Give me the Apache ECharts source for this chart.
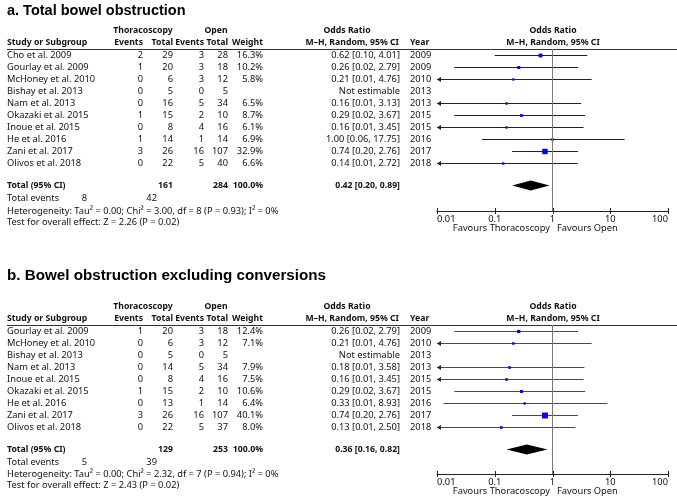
<!DOCTYPE html>
<html><head><meta charset="utf-8">
<script src="https://cdn.jsdelivr.net/npm/echarts/dist/echarts.min.js"></script>
<style>html,body{margin:0;padding:0;background:#fff}#c{width:677px;height:497px}</style>
</head><body><div id="c"></div>
<script>
// ---------- Panel a data ----------
const titleA = 'a. Total bowel obstruction';
const studiesA = ['Cho et al. 2009','Gourlay et al. 2009','McHoney et al. 2010','Bishay et al. 2013','Nam et al. 2013','Okazaki et al. 2015','Inoue et al. 2015','He et al. 2016','Zani et al. 2017','Olivos et al. 2018'];
const thorEventsA = [2,1,0,0,0,1,0,1,3,0];
const thorTotalA  = [29,20,6,5,16,15,8,14,26,22];
const openEventsA = [3,3,3,0,5,2,4,1,16,5];
const openTotalA  = [28,18,12,5,34,10,16,14,107,40];
const weightA = [16.3,10.2,5.8,null,6.5,8.7,6.1,6.9,32.9,6.6];
const orA   = [0.62,0.26,0.21,null,0.16,0.29,0.16,1.00,0.74,0.14];
const lowA  = [0.10,0.02,0.009,null,0.009,0.02,0.009,0.06,0.20,0.009];
const highA = [4.01,2.79,4.76,null,3.13,3.67,3.45,17.75,2.76,2.72];
const yearA = [2009,2009,2010,2013,2013,2015,2015,2016,2017,2018];
const pooledA = [0.42,0.20,0.89];          // OR, low, high
const totalsA = [161,284,100.0];           // thor total, open total, weight
const eventsA = [8,42];
const hetA = [0.00,3.00,8,0.93,0];         // Tau2, Chi2, df, P, I2
const effectA = [2.26,0.02];               // Z, P

// ---------- Panel b data ----------
const titleB = 'b. Bowel obstruction excluding conversions';
const studiesB = ['Gourlay et al. 2009','McHoney et al. 2010','Bishay et al. 2013','Nam et al. 2013','Inoue et al. 2015','Okazaki et al. 2015','He et al. 2016','Zani et al. 2017','Olivos et al. 2018'];
const thorEventsB = [1,0,0,0,0,1,0,3,0];
const thorTotalB  = [20,6,5,14,8,15,13,26,22];
const openEventsB = [3,3,0,5,4,2,1,16,5];
const openTotalB  = [18,12,5,34,16,10,14,107,37];
const weightB = [12.4,7.1,null,7.9,7.5,10.6,6.4,40.1,8.0];
const orB   = [0.26,0.21,null,0.18,0.16,0.29,0.33,0.74,0.13];
const lowB  = [0.02,0.009,null,0.009,0.009,0.02,0.013,0.20,0.009];
const highB = [2.79,4.76,null,3.58,3.45,3.67,8.93,2.76,2.50];
const yearB = [2009,2010,2013,2013,2015,2015,2016,2017,2018];
const pooledB = [0.36,0.16,0.82];
const totalsB = [129,253,100.0];
const eventsB = [5,39];
const hetB = [0.00,2.32,7,0.94,0];
const effectB = [2.43,0.02];

const xTicks = [0.01,0.1,1,10,100];

// ---------- layout / style ----------
const FAM = '"Noto Sans","Open Sans",sans-serif';
const FS = 9.3, FSB = 8.7;
const INK = '#111';
const COL = {study:7, thorEv:143, thorTot:173, openEv:204, openTot:228, weight:263, or:400, year:410};
const GRID_LEFT = 437, GRID_W = 231;
const font = b => (b ? 'bold ' + FSB : FS) + 'px ' + FAM;
const f2 = v => v.toFixed(2);
function T(x, y, s, align, bold) {
  return {type:'text', x:x, y:y, style:{text:String(s), fill:INK, font:font(bold), align:align||'left', verticalAlign:'middle'}};
}

const panels = [
  {title:titleA, titleY:11, titleFS:14.5, y0:55, yMax:13, studies:studiesA, te:thorEventsA, tt:thorTotalA, oe:openEventsA, ot:openTotalA,
   w:weightA, or:orA, lo:lowA, hi:highA, yr:yearA, pooled:pooledA, totals:totalsA, events:eventsA, het:hetA, eff:effectA, lineColor:'#222'},
  {title:titleB, titleY:276, titleFS:15.2, y0:331, yMax:11.92, studies:studiesB, te:thorEventsB, tt:thorTotalB, oe:openEventsB, ot:openTotalB,
   w:weightB, or:orB, lo:lowB, hi:highB, yr:yearB, pooled:pooledB, totals:totalsB, events:eventsB, het:hetB, eff:effectB, lineColor:'#4a4a4a'}
];

const grids = [], xAxes = [], yAxes = [], series = [], graphics = [];

panels.forEach((P, k) => {
  const n = P.studies.length;
  const top = P.y0 - 6;
  grids.push({left:GRID_LEFT, width:GRID_W, top:top, height:Math.round((P.yMax + 0.5) * 12)});
  xAxes.push({type:'log', logBase:10, gridIndex:k, min:xTicks[0], max:xTicks[xTicks.length-1],
    axisLine:{onZero:false, lineStyle:{color:'#222', width:1}},
    axisTick:{show:false},
    splitLine:{show:false},
    axisLabel:{color:INK, fontFamily:FAM, fontSize:FS, margin:4, alignMinLabel:'left', alignMaxLabel:'right',
      formatter: v => String(parseFloat(Number(v).toPrecision(3)))}});
  yAxes.push({type:'value', gridIndex:k, inverse:true, min:-0.5, max:P.yMax, show:false});

  // title + headers + header rule (layout text)
  const h1 = P.y0 - 24, h2 = P.y0 - 12;
  graphics.push({type:'text', x:7, y:P.titleY, style:{text:P.title, fill:'#000', font:'bold ' + P.titleFS + 'px "Liberation Sans",Arial,sans-serif', verticalAlign:'middle'}});
  [['Thoracoscopy',143,h1,'center',true],['Open',216,h1,'center',true],['Odds Ratio',347,h1,'center',true],['Odds Ratio',553,h1,'center',true],
   ['Study or Subgroup',COL.study,h2,'left',true],['Events',COL.thorEv,h2,'right',true],['Total',COL.thorTot,h2,'right',true],
   ['Events',COL.openEv,h2,'right',true],['Total',COL.openTot,h2,'right',true],['Weight',COL.weight,h2,'right',true],
   ['M\u2013H, Random, 95% CI',COL.or-1,h2,'right',true],['Year',COL.year,h2,'left',true],['M\u2013H, Random, 95% CI',553,h2,'center',true]
  ].forEach(a => graphics.push(T(a[1], a[2], a[0], a[3], a[4])));
  graphics.push({type:'line', shape:{x1:7, y1:top + 0.5, x2:677, y2:top + 0.5}, style:{stroke:'#333', lineWidth:1}});
  const axisY = P.y0 + P.yMax * 12;
  graphics.push(T(550, axisY + 17, 'Favours Thoracoscopy', 'right', false));
  graphics.push(T(557, axisY + 17, 'Favours Open', 'left', false));

  // table rows
  series.push({type:'custom', xAxisIndex:k, yAxisIndex:k, silent:true, clip:false,
    data: P.studies.map((s, i) => [1, i]),
    renderItem: (params, api) => {
      const i = params.dataIndex;
      const y = api.coord([1, api.value(1)])[1];
      const orTxt = P.or[i] == null ? 'Not estimable' : f2(P.or[i]) + ' [' + f2(P.lo[i]) + ', ' + f2(P.hi[i]) + ']';
      return {type:'group', children:[
        T(COL.study, y, P.studies[i]), T(COL.thorEv, y, P.te[i], 'right'), T(COL.thorTot, y, P.tt[i], 'right'),
        T(COL.openEv, y, P.oe[i], 'right'), T(COL.openTot, y, P.ot[i], 'right'),
        T(COL.weight, y, P.w[i] == null ? '' : P.w[i].toFixed(1) + '%', 'right'),
        T(COL.or, y, orTxt, 'right'), T(COL.year, y, P.yr[i], 'left')]};
    }});

  // summary rows
  const rTot = n + 0.88, rEv = n + 1.95, rHet = P.yMax, rTest = P.yMax + 0.93;
  series.push({type:'custom', xAxisIndex:k, yAxisIndex:k, silent:true, clip:false,
    data: [[1, rTot]],
    renderItem: (params, api) => {
      const yT = api.coord([1, rTot])[1], yE = api.coord([1, rEv])[1], yH = api.coord([1, rHet])[1], yZ = api.coord([1, rTest])[1];
      const h = P.het, z = P.eff, pl = P.pooled;
      return {type:'group', children:[
        T(COL.study, yT, 'Total (95% CI)', 'left', true), T(COL.thorTot, yT, P.totals[0], 'right', true),
        T(COL.openTot, yT, P.totals[1], 'right', true), T(COL.weight, yT, P.totals[2].toFixed(1) + '%', 'right', true),
        T(COL.or, yT, f2(pl[0]) + ' [' + f2(pl[1]) + ', ' + f2(pl[2]) + ']', 'right', true),
        T(COL.study, yE, 'Total events'), T(87, yE, P.events[0], 'right'), T(157, yE, P.events[1], 'right'),
        T(COL.study, yH, 'Heterogeneity: Tau\u00b2 = ' + f2(h[0]) + '; Chi\u00b2 = ' + f2(h[1]) + ', df = ' + h[2] + ' (P = ' + f2(h[3]) + '); I\u00b2 = ' + h[4] + '%'),
        T(COL.study, yZ, 'Test for overall effect: Z = ' + f2(z[0]) + ' (P = ' + f2(z[1]) + ')')]};
    }});

  // axis ticks crossing the axis line
  series.push({type:'custom', xAxisIndex:k, yAxisIndex:k, silent:true, clip:false,
    data: xTicks.map(v => [v, P.yMax]),
    renderItem: (params, api) => {
      const p = api.coord([api.value(0), api.value(1)]);
      const x = Math.round(p[0]) + 0.5;
      return {type:'line', shape:{x1:x, y1:p[1] - 3, x2:x, y2:p[1] + 3}, style:{stroke:'#222', lineWidth:1}};
    }});

  // forest marks: CI line, square, arrow
  const fdata = [];
  P.or.forEach((v, i) => { if (v != null) fdata.push([v, i, P.lo[i], P.hi[i], P.w[i]]); });
  series.push({type:'custom', xAxisIndex:k, yAxisIndex:k, silent:true, clip:false,
    dimensions:['est','row','lo','hi','w'], encode:{x:'est', y:'row'},
    data: fdata,
    renderItem: (params, api) => {
      const est = api.value(0), row = api.value(1), lo = api.value(2), hi = api.value(3), w = api.value(4);
      const minX = xTicks[0], maxX = xTicks[xTicks.length-1];
      const pL = api.coord([Math.max(lo, minX), row]);
      const pH = api.coord([Math.min(hi, maxX), row]);
      const pE = api.coord([est, row]);
      const y = Math.round(pE[1]) + 0.5;
      const s = Math.max(2.2, 0.95 * Math.sqrt(w));
      const ch = [
        {type:'line', shape:{x1:pL[0], y1:y, x2:pH[0], y2:y}, style:{stroke:P.lineColor, lineWidth:1}},
        {type:'rect', shape:{x:pE[0] - s/2, y:y - s/2, width:s, height:s}, style:{fill:'#0a0ad2'}}
      ];
      if (lo < minX) ch.push({type:'polygon', shape:{points:[[pL[0], y], [pL[0] + 4, y - 2.5], [pL[0] + 4, y + 2.5]]}, style:{fill:'#222'}});
      return {type:'group', children:ch};
    },
    markLine:{silent:true, symbol:'none', label:{show:false}, animation:false,
      lineStyle:{color:'#7a7a7a', width:1, type:'solid'}, data:[{xAxis:1}]}
  });

  // pooled diamond
  series.push({type:'custom', xAxisIndex:k, yAxisIndex:k, silent:true, clip:false,
    data: [[P.pooled[0], rTot, P.pooled[1], P.pooled[2]]],
    renderItem: (params, api) => {
      const row = api.value(1);
      const pE = api.coord([api.value(0), row]), pL = api.coord([api.value(2), row]), pH = api.coord([api.value(3), row]);
      const y = pE[1];
      return {type:'polygon', shape:{points:[[pL[0], y], [pE[0], y - 5], [pH[0], y], [pE[0], y + 5]]}, style:{fill:'#000'}};
    }});
});

const chart = echarts.init(document.getElementById('c'));
chart.setOption({animation:false, backgroundColor:'#fff', grid:grids, xAxis:xAxes, yAxis:yAxes, series:series, graphic:graphics});
</script></body></html>
